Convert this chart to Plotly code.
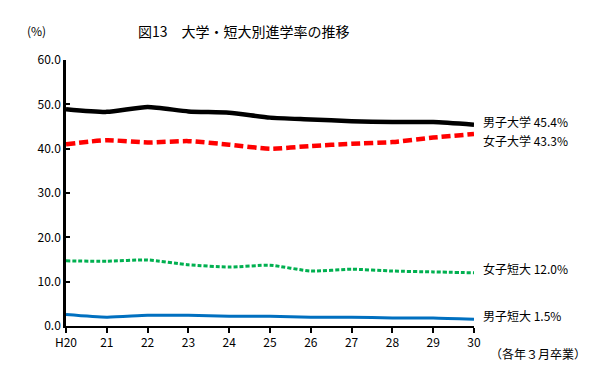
import plotly.graph_objects as go

years = ["H20", "21", "22", "23", "24", "25", "26", "27", "28", "29", "30"]
male_univ = [48.9, 48.3, 49.4, 48.4, 48.1, 47.0, 46.6, 46.2, 46.0, 46.0, 45.4]
female_univ = [41.0, 41.9, 41.4, 41.7, 40.9, 40.0, 40.6, 41.1, 41.5, 42.5, 43.3]
female_jc = [14.7, 14.6, 14.9, 13.8, 13.3, 13.7, 12.4, 12.8, 12.4, 12.2, 12.0]
male_jc = [2.6, 2.0, 2.4, 2.4, 2.2, 2.2, 2.0, 2.0, 1.8, 1.8, 1.5]
series_names = ["男子大学", "女子大学", "女子短大", "男子短大"]
yticks = [0, 10, 20, 30, 40, 50, 60]

FONT = "Noto Sans CJK JP"
xs = list(range(len(years)))

# page body has an 8px margin; figure sized so it fills the window
OFF = 8
W, H = 603 - OFF, 369 - OFF
L, T = 66 - OFF, 60 - OFF
R = W - (474 - OFF)
B = H - (326 - OFF)

def px_to_paper_x(px):
    return (px - OFF - L) / (W - L - R)

def px_to_paper_y(py):
    return (H - B - (py - OFF)) / (H - B - T)

fig = go.Figure()
styles = [
    (male_univ, "#000000", 4.5, "solid"),
    (female_univ, "#FF0000", 4.5, "9px,4px"),
    (female_jc, "#00B050", 3, "4px,2px"),
    (male_jc, "#0070C0", 3, "solid"),
]
for (vals, color, w, dash), name in zip(styles, series_names):
    fig.add_trace(go.Scatter(
        x=xs, y=vals, mode="lines", name=name,
        line=dict(color=color, width=w, dash=dash, shape="spline", smoothing=0.6),
        cliponaxis=False, showlegend=False,
    ))

end_labels = [
    (f"{series_names[0]} {male_univ[-1]:.1f}%", 46.1),
    (f"{series_names[1]} {female_univ[-1]:.1f}%", 41.9),
    (f"{series_names[2]} {female_jc[-1]:.1f}%", 12.9),
    (f"{series_names[3]} {male_jc[-1]:.1f}%", 2.3),
]
for txt, yv in end_labels:
    fig.add_annotation(x=10, y=yv, xref="x", yref="y", text=txt, showarrow=False,
                       xanchor="left", yanchor="middle", xshift=7,
                       font=dict(family=FONT, size=12, color="#000"))
fig.add_annotation(x=px_to_paper_x(244), y=px_to_paper_y(31), xref="paper", yref="paper",
                   text="図13　大学・短大別進学率の推移", showarrow=False,
                   xanchor="center", yanchor="middle",
                   font=dict(family=FONT, size=14, color="#000"))
fig.add_annotation(x=px_to_paper_x(36), y=px_to_paper_y(31), xref="paper", yref="paper",
                   text="(%)", showarrow=False, xanchor="center", yanchor="middle",
                   font=dict(family=FONT, size=12, color="#000"))
fig.add_annotation(x=px_to_paper_x(588), y=px_to_paper_y(354), xref="paper", yref="paper",
                   text="（各年３月卒業）", showarrow=False, xanchor="right", yanchor="middle",
                   font=dict(family=FONT, size=12, color="#000"))

fig.update_layout(
    width=W, height=H,
    margin=dict(l=L, r=R, t=T, b=B, autoexpand=False),
    paper_bgcolor="white", plot_bgcolor="white",
    font=dict(family=FONT, size=12, color="#000"),
)

fig.update_xaxes(
    range=[0, 10], tickvals=xs, ticktext=years, automargin=False,
    showline=True, linecolor="#000", linewidth=1.5,
    ticks="outside", ticklen=5, tickwidth=2, tickcolor="#000",
    showgrid=False, zeroline=False,
    tickfont=dict(family=FONT, size=12),
)
fig.update_yaxes(
    range=[0, 60], tickvals=yticks, ticktext=[f"{v:.1f}" for v in yticks], automargin=False,
    showline=True, linecolor="#000", linewidth=2.5,
    ticks="inside", ticklen=4, tickwidth=2, tickcolor="#000",
    showgrid=False, zeroline=False,
    tickfont=dict(family=FONT, size=12),
)

fig.write_html("out.html")
